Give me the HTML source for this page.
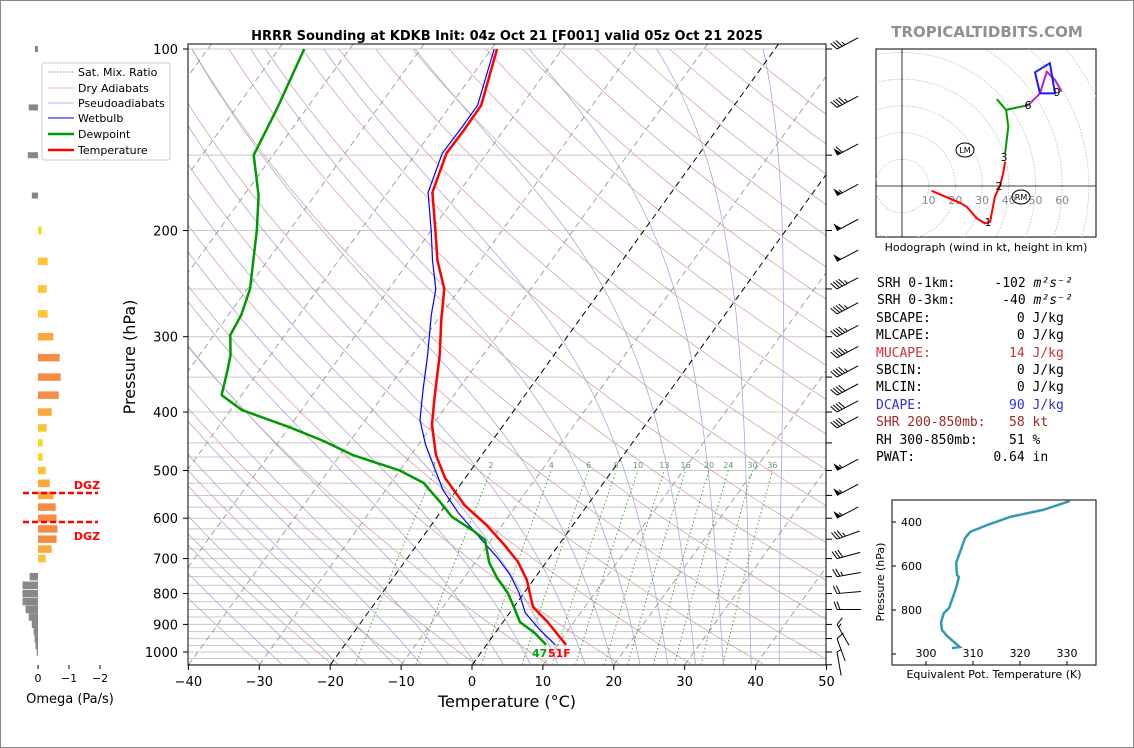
<!DOCTYPE html>
<html><head><meta charset="utf-8">
<style>
html,body{margin:0;padding:0;background:#fff;}
svg{display:block;font-family:"DejaVu Sans","Liberation Sans",sans-serif;}
.mono{font-family:"DejaVu Sans Mono","Liberation Mono",monospace;font-size:13px;white-space:pre;}
</style></head>
<body>
<svg id="chart" width="1134" height="748" viewBox="0 0 1134 748" xmlns="http://www.w3.org/2000/svg">
<rect x="0.5" y="0.5" width="1133" height="747" fill="#fff" stroke="#888"/>
<defs>
<clipPath id="mainClip"><rect x="188" y="44" width="638" height="621"/></clipPath>
<clipPath id="hodoClip"><rect x="876" y="49" width="220" height="188"/></clipPath>
<clipPath id="teClip"><rect x="892" y="500" width="204" height="165"/></clipPath>
</defs>
<text x="507" y="40" text-anchor="middle" font-size="13" font-weight="bold">HRRR Sounding at KDKB Init: 04z Oct 21 [F001] valid 05z Oct 21 2025</text>
<text x="987" y="37" text-anchor="middle" font-size="15" font-weight="bold" fill="#909090">TROPICALTIDBITS.COM</text>
<g id="bg" clip-path="url(#mainClip)"></g>
<g id="profiles" clip-path="url(#mainClip)"></g>
<g id="axes"></g>
<g id="barbs"></g>
<g id="omega"></g>
<g id="hodo"></g>
<g id="te"></g>
<g>
<rect x="42" y="63" width="128" height="97" fill="#fff" stroke="#ccc" rx="2"/>
<line x1="48" y1="72" x2="74" y2="72" stroke="#2a9d2a" stroke-dasharray="1.5,1.5" stroke-width="0.8"/>
<text x="78" y="76" font-size="11">Sat. Mix. Ratio</text>
<line x1="48" y1="88" x2="74" y2="88" stroke="#d8a0a0" stroke-width="0.8"/>
<text x="78" y="92" font-size="11">Dry Adiabats</text>
<line x1="48" y1="103" x2="74" y2="103" stroke="#a0a0dd" stroke-width="0.8"/>
<text x="78" y="107" font-size="11">Pseudoadiabats</text>
<line x1="48" y1="118" x2="74" y2="118" stroke="#0000ff" stroke-width="1"/>
<text x="78" y="122" font-size="11">Wetbulb</text>
<line x1="48" y1="134" x2="74" y2="134" stroke="#009900" stroke-width="2.5"/>
<text x="78" y="138" font-size="11">Dewpoint</text>
<line x1="48" y1="150" x2="74" y2="150" stroke="#ff0000" stroke-width="2.5"/>
<text x="78" y="154" font-size="11">Temperature</text>
</g>
<g>
<text class="mono" x="877" y="287"><tspan>SRH 0-1km:     -102 </tspan><tspan font-style="italic">m²s⁻²</tspan></text>
<text class="mono" x="877" y="304"><tspan>SRH 0-3km:      -40 </tspan><tspan font-style="italic">m²s⁻²</tspan></text>
<text class="mono" x="876" y="322">SBCAPE:           0 J/kg</text>
<text class="mono" x="876" y="339">MLCAPE:           0 J/kg</text>
<text class="mono" x="876" y="357" fill="#d03030">MUCAPE:          14 J/kg</text>
<text class="mono" x="876" y="374">SBCIN:            0 J/kg</text>
<text class="mono" x="876" y="391">MLCIN:            0 J/kg</text>
<text class="mono" x="876" y="409" fill="#3030d8">DCAPE:           90 J/kg</text>
<text class="mono" x="876" y="426" fill="#a02828">SHR 200-850mb:   58 kt</text>
<text class="mono" x="876" y="444">RH 300-850mb:    51 %</text>
<text class="mono" x="876" y="461">PWAT:          0.64 in</text>
</g>
<script>
// ---- Sounding data ----
const tempP = [973,892,842,798,760,709,665,616,571,514,471,420,382,354,322,281,250,224,200,173,149,136,124,100];
const tempC = [11.2,6.3,2.7,0.8,-0.9,-4.0,-7.6,-12.2,-17.3,-22.9,-26.5,-30.1,-32.3,-34.0,-36.1,-39.5,-42.2,-46.1,-49.4,-53.7,-55.7,-55.6,-55.7,-59.2];
const dewP = [973,930,892,836,798,754,711,652,630,597,564,524,500,471,447,424,397,375,341,322,298,276,250,200,175,150,125,100];
const dewC = [8.4,5.6,2.4,-0.3,-2.3,-5.3,-8.0,-10.9,-13.4,-17.9,-21.1,-25.4,-30.0,-38.3,-43.7,-49.9,-58.4,-62.8,-64.5,-65.6,-67.7,-68.2,-69.6,-74.6,-77.9,-82.7,-84.2,-86.4];
const wbP = [973,919,861,798,745,698,647,588,539,453,412,368,322,276,250,224,200,173,149,136,124,100];
const wbC = [9.7,6.0,2.2,-0.7,-3.8,-7.3,-11.8,-17.4,-21.9,-29.0,-32.3,-34.9,-37.8,-41.4,-43.4,-46.8,-50.0,-54.3,-56.3,-56.2,-56.2,-59.6];
// omega
const omegaP = [100,125,150,175,200,225,250,275,300,325,350,375,400,425,450,475,500,525,550,575,600,625,650,675,700,725,750,775,800,825,850,875,900,925,950,975,1000];
const omegaV = [0.1,0.3,0.33,0.2,-0.12,-0.31,-0.28,-0.31,-0.5,-0.7,-0.73,-0.67,-0.44,-0.28,-0.15,-0.15,-0.25,-0.38,-0.5,-0.57,-0.6,-0.63,-0.6,-0.44,-0.25,0,0.27,0.5,0.5,0.5,0.4,0.3,0.2,0.14,0.11,0.08,0.04];
// wind barbs (speed kt, staff angle deg)
const barbP = [100,125,150,175,200,225,250,275,300,325,350,375,400,425,500,550,600,650,700,750,800,850,900,950,1000];
const barbKt = [35,45,60,55,50,50,45,45,45,45,45,40,40,40,55,55,55,35,30,25,20,20,15,10,5];
const barbAng = [28,28,28,28,28,28,28,28,28,28,28,28,28,28,28,28,28,20,15,10,5,0,-60,-70,-80];
// hodograph (kt)
const hodoRedU = [11.1,21.7,24.2,28,31.1,33,34.8,36.7,37.9,38.6];
const hodoRedV = [-1.8,-6.3,-7.7,-12.1,-14,-13.4,-4,0.1,4.8,9.1];
const hodoGreenU = [38.6,39.8,39,35.5,39,47.3];
const hodoGreenV = [12.2,22.2,28.5,32.5,28.5,30.3];
const hodoPurpleU = [47.3,51.7,54.2,57.3,59.8];
const hodoPurpleV = [30.3,34.7,42.8,39.7,35.3];
const hodoBlueU = [51.7,49.8,55.4,57.3,51.7];
const hodoBlueV = [34.7,42.6,46,34.7,34.7];
// theta-e
const teP = [305,345,377,414,445,473,527,586,641,650,700,755,791,814,855,891,918,950,968,973];
const teK = [330.6,324.9,317.9,313.0,309.4,308.3,307.4,306.4,306.6,307.0,306.4,305.5,304.9,303.8,303.2,303.4,304.5,306.2,307.2,305.5];
const tempTicks = [-40,-30,-20,-10,0,10,20,30,40,50];
const presTicks = [100,200,300,400,500,600,700,800,900,1000];
const mixRatios = [1,2,4,6,8,10,13,16,20,24,30,36];

const NS = "http://www.w3.org/2000/svg";
function mk(tag, attrs, parent){const e=document.createElementNS(NS,tag);for(const k in attrs)e.setAttribute(k,attrs[k]);parent.appendChild(e);return e;}
function yP(p){return 49+603*Math.log10(p/100);}
function xT(T,p){return 472+7.09*T+(665-yP(p))*0.722;}
function ptsStr(arr){return arr.map(a=>a[0].toFixed(1)+","+a[1].toFixed(1)).join(" ");}

const bg=document.getElementById('bg');
const hp=[100,150,200,250,300,350,400,450];for(let p=475;p<=1050;p+=25)hp.push(p);
hp.forEach(p=>{const l=mk('line',{x1:188,x2:826,y1:yP(p),y2:yP(p),stroke:'#c8c8c8','stroke-width':1},bg);});
for(let th=200;th<=480;th+=10){const a=[];for(let p=1050;p>=95;p-=10){a.push([xT(th*Math.pow(p/1000,0.2857)-273.15,p),yP(p)]);}
 const l=mk('polyline',{points:ptsStr(a),fill:'none',stroke:'#d9a3a3','stroke-width':0.8},bg);}
function es(Tc){return 6.112*Math.exp(17.67*Tc/(Tc+243.5));}
function dTdp(T,p){const e=es(T-273.15),rs=0.622*e/(p-e),Lv=2.5e6,Rd=287,cp=1004;return (Rd*T+Lv*rs)/(p*(cp+Lv*Lv*rs*0.622/(Rd*T*T)));}
for(let t0=-30;t0<=44;t0+=4){
 let T=t0+273.15;const up=[];for(let p=1000;p>=100;p-=5){up.push([xT(T-273.15,p),yP(p)]);T-=dTdp(T,p)*5;}
 T=t0+273.15;const dn=[];for(let p=1000;p<=1055;p+=5){dn.unshift([xT(T-273.15,p),yP(p)]);T+=dTdp(T,p)*5;}
 const l=mk('polyline',{points:ptsStr(dn.concat(up)),fill:'none',stroke:'#a8a8e0','stroke-width':0.8},bg);}
for(let T=-130;T<=50;T+=10){const l=mk('line',{x1:xT(T,1050),y1:yP(1050),x2:xT(T,95),y2:yP(95),stroke:(T===0||T===-20)?'#000':'#999','stroke-width':(T===0||T===-20)?1:0.9,'stroke-dasharray':'6,4'},bg);}
const mrLabels=[];
mixRatios.forEach(w=>{const a=[];for(let p=1050;p>=500;p-=10){const e=w*p/(622+w),g=Math.log(e/6.112);a.push([xT(243.5*g/(17.67-g),p),yP(p)]);}
 const l=mk('polyline',{points:ptsStr(a),fill:'none',stroke:'#3a9a3a','stroke-width':0.9,'stroke-dasharray':'1.5,2.5'},bg);
 mrLabels.push([w,a[a.length-1][0]]);});

const pr=document.getElementById('profiles');
function prof(P,T,color,w,name){const a=P.map((p,i)=>[xT(T[i],p),yP(p)]);const l=mk('polyline',{points:ptsStr(a),fill:'none',stroke:color,'stroke-width':w,'stroke-linejoin':'round'},pr);}
prof(wbP,wbC,'#0000ff',1.2,'wetbulb-line');
prof(dewP,dewC,'#009900',2.5,'dewpoint-line');
prof(tempP,tempC,'#ff0000',2.5,'temperature-line');
mrLabels.forEach(m=>{const t=mk('text',{x:m[1],y:468,'text-anchor':'middle','font-size':8,fill:'#5a9a5a'},pr);t.textContent=m[0];});

const ax=document.getElementById('axes');
mk('rect',{x:188,y:44,width:638,height:621,fill:'none',stroke:'#000','stroke-width':1},ax);
tempTicks.forEach(T=>{const x=472+7.09*T;mk('line',{x1:x,x2:x,y1:665,y2:670,stroke:'#000'},ax);
 const t=mk('text',{x:x,y:686,'text-anchor':'middle','font-size':13},ax);t.textContent=(T<0?'\u2212'+(-T):T);});
presTicks.forEach(p=>{const y=yP(p);mk('line',{x1:183,x2:188,y1:y,y2:y,stroke:'#000'},ax);
 const t=mk('text',{x:178,y:y+5,'text-anchor':'end','font-size':13},ax);t.textContent=p;});
for(let p=100;p<=1050;p+=50){const y=yP(p);mk('line',{x1:826,x2:832,y1:y,y2:y,stroke:'#000'},ax);}
let t=mk('text',{x:507,y:707,'text-anchor':'middle','font-size':16},ax);t.textContent='Temperature (°C)';
t=mk('text',{x:0,y:0,'text-anchor':'middle','font-size':16,transform:'translate(135,357) rotate(-90)'},ax);t.textContent='Pressure (hPa)';
t=mk('text',{x:532,y:657,'font-size':11,'font-weight':'bold',fill:'#00aa00'},ax);t.textContent='47';
t=mk('text',{x:548,y:657,'font-size':11,'font-weight':'bold',fill:'#ff0000'},ax);t.textContent='51F';

const bb=document.getElementById('barbs');
barbP.forEach((p,i)=>{const y=yP(p),x0=837;const ang=barbAng[i]*Math.PI/180;const L=24;
 const dx=Math.cos(ang),dy=-Math.sin(ang);const x1=x0+dx*L,y1=y+dy*L;
 const g=mk('g',{},bb);
 mk('line',{x1:x0,y1:y,x2:x1,y2:y1,stroke:'#000','stroke-width':1},g);
 let s=barbKt[i],pos=0;const px=-dy,py=dx;
 while(s>=50){const ax1=x0+dx*pos,ay1=y+dy*pos,ax2=x0+dx*(pos+5),ay2=y+dy*(pos+5);
  mk('polygon',{points:`${ax1},${ay1} ${ax2},${ay2} ${ax1-px*8},${ay1-py*8}`,fill:'#000'},g);pos+=6;s-=50;}
 while(s>=10){const bx=x0+dx*pos,by=y+dy*pos;mk('line',{x1:bx,y1:by,x2:bx-px*8-dx*3,y2:by-py*8-dy*3,stroke:'#000','stroke-width':1},g);pos+=3;s-=10;}
 if(s>=5){const bx=x0+dx*pos,by=y+dy*pos;mk('line',{x1:bx,y1:by,x2:bx-px*4-dx*1.5,y2:by-py*4-dy*1.5,stroke:'#000','stroke-width':1},g);}
});

const om=document.getElementById('omega');
function xO(v){return 38-31*v;}
omegaP.forEach((p,i)=>{const v=omegaV[i];if(v===0)return;const y=yP(p);const x1=Math.min(xO(0),xO(v)),w=Math.abs(xO(v)-xO(0));
 const a=Math.abs(v);const c=v>0?'#888':(a<0.2?'#f7d922':a<0.36?'#fcc433':a<0.56?'#fca83a':'#f78c45');
 const h=p<=175?6:7.5;
 const r=mk('rect',{x:x1,y:y-h/2,width:w,height:h,fill:c},om);});
[0,-1,-2].forEach(v=>{mk('line',{x1:xO(v),x2:xO(v),y1:665,y2:669,stroke:'#000'},om);const tt=mk('text',{x:xO(v),y:682,'text-anchor':'middle','font-size':11},om);tt.textContent=v===0?'0':'\u2212'+(-v);});
t=mk('text',{x:70,y:703,'text-anchor':'middle','font-size':13},om);t.textContent='Omega (Pa/s)';
[[493,485],[522,536]].forEach(d=>{mk('line',{x1:23,x2:98,y1:d[0],y2:d[0],stroke:'#ff0000','stroke-width':2.5,'stroke-dasharray':'6,3'},om);
 const tt=mk('text',{x:87,y:d[1]+4,'text-anchor':'middle','font-size':11,'font-weight':'bold',fill:'#ff0000'},om);tt.textContent='DGZ';});

const hd=document.getElementById('hodo');
const hx=u=>902+2.67*u, hy=v=>186-2.67*v;
mk('rect',{x:876,y:49,width:220,height:188,fill:'#fff',stroke:'#000'},hd);
const hg=mk('g',{'clip-path':'url(#hodoClip)'},hd);
for(let r=10;r<=90;r+=10)mk('circle',{cx:hx(0),cy:hy(0),r:2.67*r,fill:'none',stroke:'#bbb','stroke-width':0.8,'stroke-dasharray':'1.5,1.5'},hg);
mk('line',{x1:876,x2:1096,y1:hy(0),y2:hy(0),stroke:'#000','stroke-width':0.8},hg);
mk('line',{x1:hx(0),x2:hx(0),y1:49,y2:237,stroke:'#000','stroke-width':0.8},hg);
[10,20,30,40,50,60].forEach(r=>{const tt=mk('text',{x:hx(r),y:hy(0)+18,'text-anchor':'middle','font-size':11,fill:'#888'},hg);tt.textContent=r;});
function hl(U,V,c,name){const l=mk('polyline',{points:ptsStr(U.map((u,i)=>[hx(u),hy(V[i])])),fill:'none',stroke:c,'stroke-width':2},hg);}
hl(hodoRedU,hodoRedV,'#ff0000','hodo-0-3km');hl(hodoGreenU,hodoGreenV,'#009900','hodo-3-6km');hl(hodoPurpleU,hodoPurpleV,'#bb22cc','hodo-6-9km');hl(hodoBlueU,hodoBlueV,'#1a1aff','hodo-9km-plus');
[['1',988,226],['2',999,190],['3',1004,161],['6',1028,109],['9',1057,96]].forEach(a=>{const tt=mk('text',{x:a[1],y:a[2],'text-anchor':'middle','font-size':11},hg);tt.textContent=a[0];});
[['LM',965,150],['RM',1021,197]].forEach(a=>{mk('ellipse',{cx:a[1],cy:a[2],rx:9,ry:7,fill:'none',stroke:'#000'},hg);const tt=mk('text',{x:a[1],y:a[2]+3,'text-anchor':'middle','font-size':8},hg);tt.textContent=a[0];});
t=mk('text',{x:986,y:251,'text-anchor':'middle','font-size':11},hd);t.textContent='Hodograph (wind in kt, height in km)';

const tg=document.getElementById('te');
const tx=k=>926+4.7*(k-300), ty=p=>522+0.22*(p-400);
mk('rect',{x:892,y:500,width:204,height:165,fill:'#fff',stroke:'#000'},tg);
[300,310,320,330].forEach(k=>{mk('line',{x1:tx(k),x2:tx(k),y1:665,y2:661,stroke:'#000'},tg);const tt=mk('text',{x:tx(k),y:657,'text-anchor':'middle','font-size':11},tg);tt.textContent=k;});
[400,600,800,1000].forEach(p=>{mk('line',{x1:892,x2:896,y1:ty(p),y2:ty(p),stroke:'#000'},tg);if(p<1000){const tt=mk('text',{x:922,y:ty(p)+4,'text-anchor':'end','font-size':11},tg);tt.textContent=p;}});
const tl=mk('polyline',{points:ptsStr(teP.map((p,i)=>[tx(teK[i]),ty(p)])),fill:'none',stroke:'#3399b3','stroke-width':2.5,'clip-path':'url(#teClip)'},tg);
t=mk('text',{x:994,y:678,'text-anchor':'middle','font-size':11},tg);t.textContent='Equivalent Pot. Temperature (K)';
t=mk('text',{x:0,y:0,'text-anchor':'middle','font-size':11,transform:'translate(884,582) rotate(-90)'},tg);t.textContent='Pressure (hPa)';
</script>
</svg>
</body></html>
